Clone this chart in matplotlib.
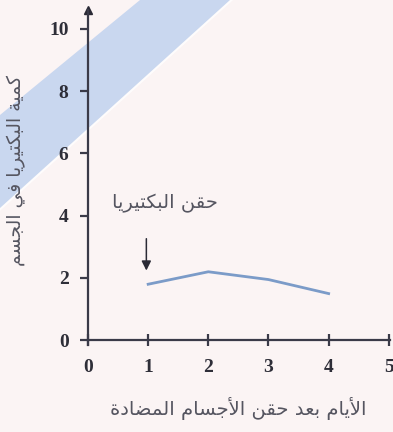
import matplotlib.pyplot as plt
from matplotlib.patches import Polygon

# datos del grafico
dias = [1, 2, 3, 4]
bacterias = [1.8, 2.2, 1.95, 1.5]
xticks = [0, 1, 2, 3, 4, 5]
yticks = [0, 2, 4, 6, 8, 10]
ylabel = "كمية البكتيريا في الجسم"
xlabel = "الأيام بعد حقن الأجسام المضادة"
nota = "حقن البكتيريا"

# formas de presentacion: aislada, final, inicial, medial
FORMAS = {
    'ا': (0xFE8D, 0xFE8E), 'أ': (0xFE83, 0xFE84), 'ة': (0xFE93, 0xFE94),
    'د': (0xFEA9, 0xFEAA), 'ر': (0xFEAD, 0xFEAE),
    'ب': (0xFE8F, 0xFE90, 0xFE91, 0xFE92), 'ت': (0xFE95, 0xFE96, 0xFE97, 0xFE98),
    'ج': (0xFE9D, 0xFE9E, 0xFE9F, 0xFEA0), 'ح': (0xFEA1, 0xFEA2, 0xFEA3, 0xFEA4),
    'س': (0xFEB1, 0xFEB2, 0xFEB3, 0xFEB4), 'ض': (0xFEBD, 0xFEBE, 0xFEBF, 0xFEC0),
    'ع': (0xFEC9, 0xFECA, 0xFECB, 0xFECC), 'ف': (0xFED1, 0xFED2, 0xFED3, 0xFED4),
    'ق': (0xFED5, 0xFED6, 0xFED7, 0xFED8), 'ك': (0xFED9, 0xFEDA, 0xFEDB, 0xFEDC),
    'ل': (0xFEDD, 0xFEDE, 0xFEDF, 0xFEE0), 'م': (0xFEE1, 0xFEE2, 0xFEE3, 0xFEE4),
    'ن': (0xFEE5, 0xFEE6, 0xFEE7, 0xFEE8), 'ي': (0xFEF1, 0xFEF2, 0xFEF3, 0xFEF4),
}
LAM_ALEF = {'ا': (0xFEFB, 0xFEFC), 'أ': (0xFEF7, 0xFEF8)}


def arabe(s):
    # une letras y las pone de derecha a izquierda
    letras = []
    i = 0
    while i < len(s):
        c = s[i]
        if c == 'ل' and i + 1 < len(s) and s[i + 1] in LAM_ALEF:
            letras.append(('LA', s[i + 1]))
            i += 2
        else:
            letras.append(('C', c))
            i += 1
    out = []
    for j, (tipo, c) in enumerate(letras):
        prev = letras[j - 1] if j > 0 else None
        nxt = letras[j + 1] if j + 1 < len(letras) else None
        une_prev = (prev is not None and prev[0] == 'C' and prev[1] in FORMAS
                    and len(FORMAS[prev[1]]) == 4)
        if tipo == 'LA':
            f = LAM_ALEF[c]
            out.append(chr(f[1] if une_prev else f[0]))
            continue
        if c not in FORMAS:
            out.append(c)
            continue
        f = FORMAS[c]
        une_sig = (len(f) == 4 and nxt is not None
                   and (nxt[0] == 'LA' or nxt[1] in FORMAS))
        if une_prev and une_sig:
            out.append(chr(f[3]))
        elif une_prev:
            out.append(chr(f[1]))
        elif une_sig:
            out.append(chr(f[2]))
        else:
            out.append(chr(f[0]))
    return ''.join(out)[::-1]


fig = plt.figure(figsize=(3.93, 4.32), dpi=100)
fig.patch.set_facecolor('#fbf4f4')

# franja azul decorativa
W, H = 393, 432
franja = [(140, 0), (230, 0), (0, 208), (0, 115)]
fig.patches.append(Polygon([(x / W, 1 - y / H) for x, y in franja], closed=True,
                           transform=fig.transFigure, facecolor='#c9d7ef',
                           edgecolor='none', zorder=0))
fig.lines.append(plt.Line2D([230 / W, 0], [1, 1 - 208 / H], transform=fig.transFigure,
                            color='white', lw=3, alpha=0.8, zorder=0))

ax = fig.add_axes([88 / W, (H - 345) / H, (390 - 88) / W, (345 - 10) / H])
ax.set_zorder(2)
ax.patch.set_alpha(0)
ax.set_xlim(0, 5.02)
ax.set_ylim(-0.15, 10.6)

ax.plot(dias, bacterias, color='#7b9bc8', lw=2)

for s in ['top', 'right']:
    ax.spines[s].set_visible(False)
for s in ['left', 'bottom']:
    ax.spines[s].set_color('#3a3a48')
    ax.spines[s].set_linewidth(1.6)
    ax.spines[s].set_position(('data', 0))
ax.plot(0, 10.6, marker='^', color='#2a2a35', ms=6, clip_on=False)

ax.set_xticks(xticks)
ax.set_yticks(yticks)
ax.tick_params(axis='x', direction='inout', length=9, width=1.6, color='#3a3a48', pad=9)
ax.tick_params(axis='y', direction='out', length=6, width=1.6, color='#3a3a48', pad=8)
for lab in ax.get_xticklabels() + ax.get_yticklabels():
    lab.set_fontfamily('Liberation Serif')
    lab.set_fontweight('bold')
    lab.set_fontsize(14)
    lab.set_color('#2e2e38')

ax.annotate('', xy=(0.97, 2.15), xytext=(0.97, 3.35),
            arrowprops=dict(arrowstyle='-|>', color='#2a2a35', lw=1.1, mutation_scale=14))
ax.text(1.28, 4.4, arabe(nota), fontsize=14, color='#555560', ha='center', va='center',
        family=['DejaVu Sans'])

fig.text(16 / W, 1 - 170 / H, arabe(ylabel), rotation=90, fontsize=13.5, color='#555560',
         ha='center', va='center', family=['DejaVu Sans'])
fig.text(238 / W, 1 - 408 / H, arabe(xlabel), fontsize=14, color='#555560',
         ha='center', va='center', family=['DejaVu Sans'])

fig.savefig('out.png', dpi=100, facecolor=fig.get_facecolor())
